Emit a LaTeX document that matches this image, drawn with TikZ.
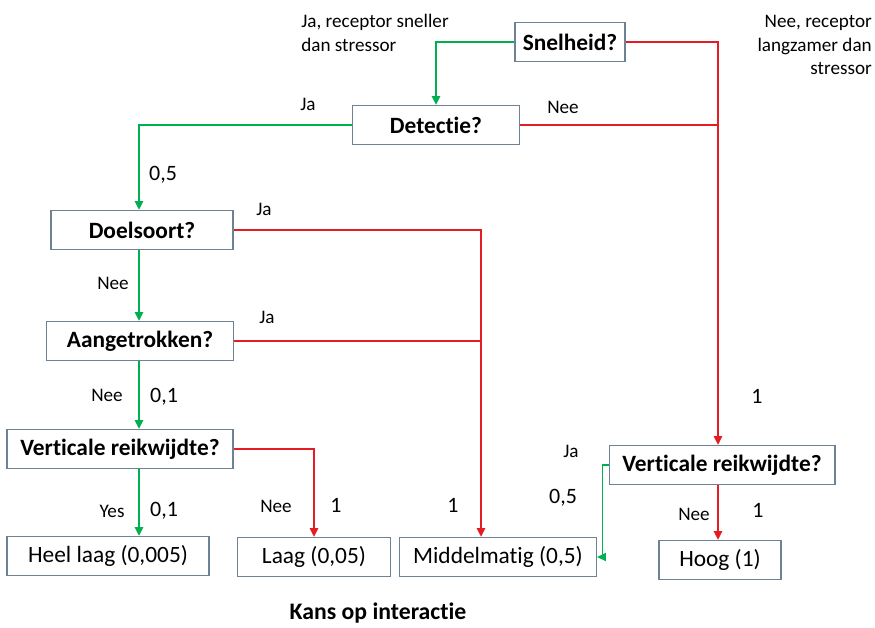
\documentclass[tikz,border=0pt]{standalone}
\usepackage{fontspec}
\setmainfont{Carlito}[Ligatures=NoCommon]
\usepackage{tikz}
\usetikzlibrary{arrows, arrows.meta, positioning}
\definecolor{jagreen}{RGB}{0,176,80}
\definecolor{neered}{RGB}{228,28,36}
\definecolor{boxgrey}{RGB}{110,130,150}
\tikzset{>={Triangle[length=5pt,width=4.5pt]}}

\begin{document}
\begin{tikzpicture}[x=0.02cm, y=-0.02cm, line width=1.4pt,
	box/.style={draw=boxgrey, line width=0.6pt, fill=white, minimum height=0.78cm, inner sep=0pt, font=\fontsize{13.3}{15}\selectfont},
	qbox/.style={box, font=\fontsize{13.3}{15}\selectfont\bfseries},
	lbl/.style={inner sep=0pt, font=\fontsize{10.9}{13.5}\selectfont},
	num/.style={inner sep=0pt, font=\fontsize{12.5}{15}\selectfont},
	ja/.style={draw=jagreen},
	nee/.style={draw=neered}]
	\useasboundingbox (0,0) rectangle (875,628);

	% vragen
	\node[qbox, minimum width=2.2cm]	(snel)	at (570,42)	{Snelheid?};
	\node[qbox, minimum width=3.34cm]	(detect)	at (436,125)	{Detectie?};
	\node[qbox, minimum width=3.64cm]	(doel)	at (142,230)	{Doelsoort?};
	\node[qbox, minimum width=3.74cm]	(aang)	at (140,341)	{Aangetrokken?};
	\node[qbox, minimum width=4.52cm]	(vert1)	at (120,449)	{Verticale reikwijdte?};
	\node[qbox, minimum width=4.52cm]	(vert2)	at (722,465)	{Verticale reikwijdte?};

	% uitkomsten
	\node[box, minimum width=4.04cm]	(heel)	at (108,556)	{Heel laag (0,005)};
	\node[box, minimum width=3.06cm]	(laag)	at (314,557)	{Laag (0,05)};
	\node[box, minimum width=3.94cm]	(midd)	at (498,557)	{Middelmatig (0,5)};
	\node[box, minimum width=2.44cm]	(hoog)	at (720,560)	{Hoog (1)};

	\coordinate (jR) at (718,125);
	\coordinate (jM) at (481,230);
	\coordinate (jL) at (139,0);

	% verbindingen
	\draw[ja, ->]	(snel.west) -| (detect.north);
	\draw[nee, ->]	(snel.east) -| (jR) -- (jR |- vert2.north);
	\draw[nee]	(detect.east) -- (jR);
	\draw[ja, ->]	(detect.west) -| (jL |- doel.north);
	\draw[ja, ->]	(jL |- doel.south) -- (jL |- aang.north);
	\draw[nee, ->]	(doel.east) -| (jM |- midd.north);
	\draw[nee]	(aang.east) -- (aang.east -| jM);
	\draw[ja, ->]	(jL |- aang.south) -- (jL |- vert1.north);
	\draw[nee, ->]	(vert1.east) -| (laag.north);
	\draw[ja, ->]	(jL |- vert1.south) -- (jL |- heel.north);
	\draw[ja, ->, line width=1pt]	(vert2.west) -- ++(-6,0) |- (midd.east);
	\draw[nee, ->]	(jR |- vert2.south) -- (jR |- hoog.north);

	% labels
	\node[lbl, align=left]	(lSnelJa)	at (375,33)	{Ja, receptor sneller\\dan stressor};
	\node[lbl, align=right, anchor=east]	(lSnelNee)	at (873,45)	{Nee, receptor\\langzamer dan\\stressor};
	\node[lbl]	(lDetJa)	at (308,104)	{Ja};
	\node[lbl]	(lDetNee)	at (563,107)	{Nee};
	\node[num]	(pDet)	at (163,175)	{0,5};
	\node[lbl]	(lDoelJa)	at (264,209)	{Ja};
	\node[lbl]	(lDoelNee)	at (113,283)	{Nee};
	\node[lbl]	(lAangJa)	at (267,317)	{Ja};
	\node[lbl]	(lAangNee)	at (107,395)	{Nee};
	\node[num]	(pAang)	at (164,397)	{0,1};
	\node[lbl]	(lVertYes)	at (112,511)	{Yes};
	\node[num]	(pVertYes)	at (164,511)	{0,1};
	\node[lbl]	(lVertNee)	at (276,506)	{Nee};
	\node[num]	(pVertNee)	at (336,505)	{1};
	\node[num]	(pMidd)	at (453,505)	{1};
	\node[lbl]	(lVert2Ja)	at (571,451)	{Ja};
	\node[num]	(pVert2Ja)	at (563,498)	{0,5};
	\node[num]	(pSnelNee)	at (757,396)	{1};
	\node[lbl]	(lVert2Nee)	at (694,514)	{Nee};
	\node[num]	(pVert2Nee)	at (758,510)	{1};
	\node[inner sep=0pt, font=\fontsize{13.5}{15}\selectfont\bfseries]	(kans)	at (378,613)	{Kans op interactie};
\end{tikzpicture}
\end{document}
